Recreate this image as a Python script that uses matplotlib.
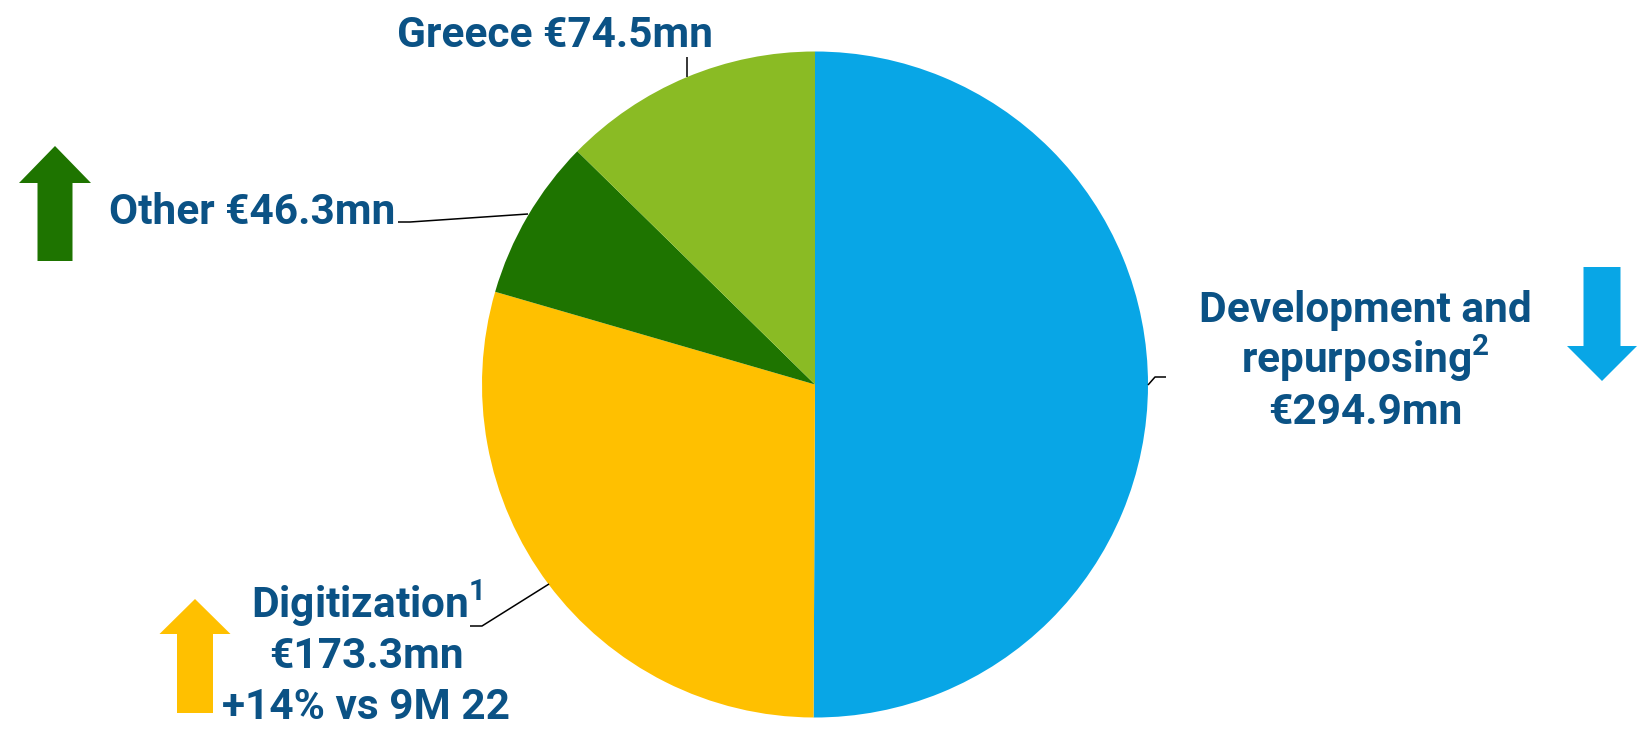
import matplotlib
matplotlib.use("Agg")
import matplotlib.pyplot as plt
from matplotlib.patches import Polygon

plt.rcParams["font.family"] = ["Roboto", "DejaVu Sans"]
plt.rcParams["mathtext.fontset"] = "custom"
plt.rcParams["mathtext.rm"] = "Roboto:bold"
plt.rcParams["mathtext.it"] = "Roboto:bold"
plt.rcParams["mathtext.bf"] = "Roboto:bold"

# Revenue split (EUR mn), clockwise from 12 o'clock
segments = ["Development and repurposing", "Digitization", "Other", "Greece"]
values = [294.9, 173.3, 46.3, 74.5]
colors = ["#08A6E6", "#FFC000", "#1E7400", "#8ABB24"]
digitization_growth = "+14% vs 9M 22"

W, H = 1639, 729
TXT = "#0B5285"
FS = 30.5

fig = plt.figure(figsize=(W / 100, H / 100), dpi=100)
ax = fig.add_axes([0, 0, 1, 1])
ax.set_xlim(0, W)
ax.set_ylim(0, H)
ax.axis("off")


def Y(y):
    # pixel row (from top) -> data y
    return H - y


ax.pie(values, colors=colors, startangle=90, counterclock=False,
       center=(815, Y(384.5)), radius=333, frame=True,
       wedgeprops=dict(linewidth=0))
ax.set_xlim(0, W)
ax.set_ylim(0, H)
ax.set_aspect("equal")
ax.axis("off")


def label(x, y, s):
    ax.text(x, Y(y), s, ha="center", va="baseline", fontsize=FS,
            fontweight="bold", color=TXT)


def leader(pts):
    xs = [p[0] for p in pts]
    ys = [Y(p[1]) for p in pts]
    ax.plot(xs, ys, color="black", lw=1.1, solid_capstyle="butt")


def arrow(cx, top, bottom, head_w, shaft_w, head_len, color, up=True):
    hw, sw = head_w / 2, shaft_w / 2
    if up:
        pts = [(cx, top), (cx + hw, top + head_len), (cx + sw, top + head_len),
               (cx + sw, bottom), (cx - sw, bottom), (cx - sw, top + head_len),
               (cx - hw, top + head_len)]
    else:
        pts = [(cx, bottom), (cx + hw, bottom - head_len), (cx + sw, bottom - head_len),
               (cx + sw, top), (cx - sw, top), (cx - sw, bottom - head_len),
               (cx - hw, bottom - head_len)]
    ax.add_patch(Polygon([(px, Y(py)) for px, py in pts], closed=True,
                         facecolor=color, edgecolor="none"))


def mn(v):
    return f"€{v:.1f}mn"


# Greece
label(555, 47, f"{segments[3]} {mn(values[3])}")
leader([(687, 57), (687, 77)])

# Other
label(252, 224, f"{segments[2]} {mn(values[2])}")
leader([(398, 222), (410, 222), (528, 214)])
arrow(55, 146, 261, 72, 35, 37, colors[2], up=True)

# Development and repurposing
label(1365, 322, "Development and")
label(1365, 373, r"repurposing$^{2}$")
label(1365, 424, mn(values[0]))
leader([(1148, 385), (1155, 377), (1166, 377)])
arrow(1602, 267, 381, 70, 37, 35, colors[0], up=False)

# Digitization
label(367, 618, r"Digitization$^{1}$")
label(366, 668, mn(values[1]))
label(366, 719, digitization_growth)
leader([(470, 626), (482, 626), (549, 584)])
arrow(195, 599, 713, 71, 36, 35, colors[1], up=True)

fig.savefig("out.png", dpi=100)
